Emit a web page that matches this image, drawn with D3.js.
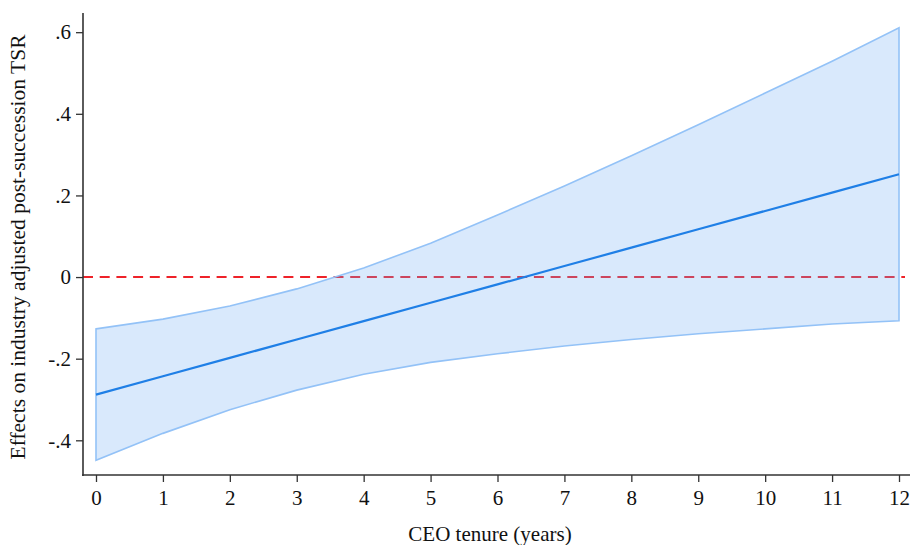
<!DOCTYPE html>
<html>
<head>
<meta charset="utf-8">
<script src="https://cdn.jsdelivr.net/npm/d3@7"></script>
<style>
  html, body { margin: 0; padding: 0; background: #fff; }
  svg { display: block; }
  text { font-family: "Liberation Serif", "Times New Roman", serif; fill: #111; }
</style>
</head>
<body>
<svg id="chart" width="910" height="545"></svg>
<script>
// ---- data ----
const tenure = [0, 1, 2, 3, 4, 5, 6, 7, 8, 9, 10, 11, 12];
const effect = [-0.288, -0.243, -0.198, -0.153, -0.108, -0.063, -0.018, 0.027, 0.072, 0.117, 0.162, 0.207, 0.252];
const upperCI = [-0.127, -0.103, -0.071, -0.029, 0.022, 0.083, 0.152, 0.223, 0.297, 0.373, 0.451, 0.529, 0.611];
const lowerCI = [-0.449, -0.383, -0.325, -0.277, -0.238, -0.209, -0.188, -0.169, -0.153, -0.139, -0.127, -0.115, -0.107];
const yTickValues = [-0.4, -0.2, 0, 0.2, 0.4, 0.6];
const yTickLabels = ["-.4", "-.2", "0", ".2", ".4", ".6"];
const xTickValues = [0, 1, 2, 3, 4, 5, 6, 7, 8, 9, 10, 11, 12];
const xTitle = "CEO tenure (years)";
const yTitle = "Effects on industry adjusted post-succession TSR";

const svg = d3.select("#chart");
const x = d3.scaleLinear().domain([0, 12]).range([96, 899]);
const y = d3.scaleLinear().domain([-0.485, 0.647]).range([475, 13]);

const rows = tenure.map((t, i) => ({ t, m: effect[i], lo: lowerCI[i], hi: upperCI[i] }));

// zero reference line (under the band)
svg.append("line")
  .attr("x1", 83).attr("x2", 905)
  .attr("y1", y(0)).attr("y2", y(0))
  .attr("stroke", "#ee2229").attr("stroke-width", 2)
  .attr("stroke-dasharray", "10,6.7");

// confidence band
const area = d3.area().x(d => x(d.t)).y0(d => y(d.lo)).y1(d => y(d.hi));
svg.append("path").datum(rows)
  .attr("d", area)
  .attr("fill", "rgba(110,170,245,0.26)")
  .attr("stroke", "none");
// band outline (closed polygon)
const poly = rows.map(d => [x(d.t), y(d.hi)]).concat(rows.slice().reverse().map(d => [x(d.t), y(d.lo)]));
svg.append("path")
  .attr("d", "M" + poly.map(p => p.join(",")).join("L") + "Z")
  .attr("fill", "none")
  .attr("stroke", "#93c2f7").attr("stroke-width", 1.6);

// mean line
const line = d3.line().x(d => x(d.t)).y(d => y(d.m));
svg.append("path").datum(rows)
  .attr("d", line)
  .attr("fill", "none")
  .attr("stroke", "#1f7fe6").attr("stroke-width", 2.2);

// axes
const axisColor = "#333";
const yAxis = svg.append("g").attr("transform", "translate(83,0)")
  .call(d3.axisLeft(y).tickValues(yTickValues).tickFormat((d, i) => yTickLabels[i]).tickSize(7).tickPadding(5).tickSizeOuter(0));
yAxis.select(".domain").remove();
yAxis.selectAll(".tick line").attr("stroke", axisColor).attr("stroke-width", 1.3);
yAxis.selectAll(".tick text").attr("font-size", 21).attr("font-family", "Liberation Serif").attr("fill", "#111");
svg.append("line").attr("x1", 83).attr("x2", 83).attr("y1", 13).attr("y2", 476)
  .attr("stroke", axisColor).attr("stroke-width", 1.6);

const xAxis = svg.append("g").attr("transform", "translate(0,475)")
  .call(d3.axisBottom(x).tickValues(xTickValues).tickFormat(d3.format("d")).tickSize(7).tickPadding(8).tickSizeOuter(0));
xAxis.select(".domain").remove();
xAxis.selectAll(".tick line").attr("stroke", axisColor).attr("stroke-width", 1.3);
xAxis.selectAll(".tick text").attr("font-size", 21).attr("font-family", "Liberation Serif").attr("fill", "#111");
svg.append("line").attr("x1", 82).attr("x2", 910).attr("y1", 475).attr("y2", 475)
  .attr("stroke", axisColor).attr("stroke-width", 1.6);

// titles
svg.append("text")
  .attr("x", 490).attr("y", 541)
  .attr("text-anchor", "middle")
  .attr("font-size", 21)
  .text(xTitle);
svg.append("text")
  .attr("transform", "translate(25,247) rotate(-90)")
  .attr("text-anchor", "middle")
  .attr("font-size", 21.5)
  .text(yTitle);
</script>
</body>
</html>
